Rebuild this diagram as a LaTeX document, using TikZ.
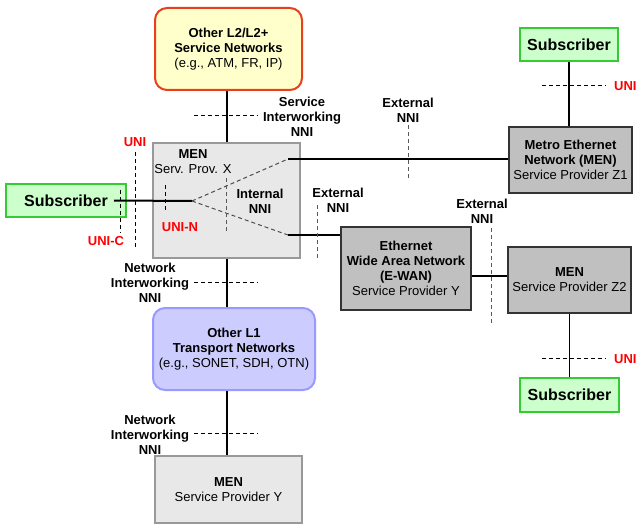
\documentclass[tikz,border=0pt]{standalone}
\usepackage{fontspec}
\setmainfont{Liberation Sans}
\definecolor{lyellow}{HTML}{FFFFCC}
\definecolor{lred}{HTML}{E8401C}
\definecolor{lblue}{HTML}{CCCCFF}
\definecolor{bblue}{HTML}{9999FF}
\definecolor{lgreen}{HTML}{CCFFCC}
\definecolor{bgreen}{HTML}{33CC33}
\definecolor{menfill}{HTML}{E8E8E8}
\definecolor{menborder}{HTML}{999999}
\definecolor{darkfill}{HTML}{C0C0C0}
\definecolor{darkborder}{HTML}{333333}
\definecolor{unired}{HTML}{FF0000}
\begin{document}
\begin{tikzpicture}[x=1pt,y=-1pt,
  font=\fontsize{13}{15}\selectfont,
  box/.style={draw, line width=2pt, inner sep=0pt, align=center},
  lightbox/.style={box, fill=menfill, draw=menborder},
  darkbox/.style={box, fill=darkfill, draw=darkborder},
  subbox/.style={box, fill=lgreen, draw=bgreen, font=\fontsize{16}{18}\selectfont\bfseries},
  conn/.style={line width=2pt, black},
  thinconn/.style={line width=1.5pt, black},
  dashline/.style={line width=1pt, dash pattern=on 4pt off 3pt},
  greydash/.style={line width=1pt, dash pattern=on 4pt off 3pt, black!65},
  lbl/.style={align=center, font=\fontsize{13}{15}\selectfont\bfseries, inner sep=0pt},
  redlbl/.style={text=unired, font=\fontsize{13}{15}\selectfont\bfseries, inner sep=0pt}
]
\useasboundingbox (0,0) rectangle (637,524);

% boxes
\node[box, fill=lyellow, draw=lred, rounded corners=12pt, minimum width=147pt, minimum height=82pt] (l2) at (228.5,49)
  {\textbf{Other L2/L2+}\\\textbf{Service Networks}\\(e.g., ATM, FR, IP)};
\node[lightbox, minimum width=147pt, minimum height=115pt] (menx) at (226.5,200.5) {};
\node[align=center, inner sep=0pt] (menxlab) at (193,162) {\textbf{MEN}\\Serv. Prov. X};
\node[subbox, minimum width=120pt, minimum height=33pt] (subl) at (66,200.5) {Subscriber};
\node[subbox, minimum width=98pt, minimum height=33pt] (subtr) at (569,44.5) {Subscriber};
\node[darkbox, minimum width=123pt, minimum height=66pt] (metro) at (570.5,160)
  {\textbf{Metro Ethernet}\\\textbf{Network (MEN)}\\Service Provider Z1};
\node[darkbox, minimum width=130pt, minimum height=83pt] (ewan) at (406,268.5)
  {\textbf{Ethernet}\\\textbf{Wide Area Network}\\\textbf{(E-WAN)}\\Service Provider Y};
\node[darkbox, minimum width=123pt, minimum height=66pt] (z2) at (569.5,280)
  {\textbf{MEN}\\Service Provider Z2};
\node[subbox, minimum width=99pt, minimum height=34pt] (subbr) at (569.5,395) {Subscriber};
\node[box, fill=lblue, draw=bblue, rounded corners=12pt, minimum width=162pt, minimum height=82pt] (l1) at (234,349)
  {\textbf{Other L1}\\\textbf{Transport Networks}\\(e.g., SONET, SDH, OTN)};
\node[lightbox, minimum width=147pt, minimum height=67pt] (meny) at (228.5,489.5)
  {\textbf{MEN}\\Service Provider Y};

% connectors
\draw[conn] (l2.south -| menx.north) -- (menx.north);
\draw[conn] (menx.south) -- (menx.south |- l1.north);
\draw[conn] (menx.south |- l1.south) -- (menx.south |- meny.north);
\draw[conn] (subtr.south) -- (subtr.south |- metro.north);
\draw[thinconn] (z2.south) -- (z2.south |- subbr.north);
\coordinate (split) at (192,201);
\coordinate (up) at (288,159);
\coordinate (down) at (288,235);
\draw[conn] ([xshift=-13pt]subl.east) -- (split);
\draw[dashline, black!70] (split) -- (up);
\draw[dashline, black!70] (split) -- (down);
\draw[conn] (up) -- (up -| metro.west);
\draw[thinconn] (down) -- (down -| ewan.west);
\draw[thinconn] ([yshift=-7.5pt]ewan.east) coordinate (e1) -- (e1 -| z2.west);

% dashed reference lines
\draw[dashline] (194,116) -- (258,116);
\draw[dashline] (120,190) -- (120,233);
\draw[dashline] (135,152) -- (135,248);
\draw[dashline] (165,185) -- (165,212);
\draw[greydash] (226,178) -- (226,233);
\draw[greydash] (408,125) -- (408,180);
\draw[greydash] (317,205) -- (317,260);
\draw[greydash] (491,228) -- (491,323);
\draw[dashline] (542,86) -- (606,86);
\draw[dashline] (542,358) -- (606,358);
\draw[dashline] (194,282) -- (258,282);
\draw[dashline] (194,433) -- (258,433);

% labels
\node[lbl] (sinni) at (302,117) {Service\\Interworking\\NNI};
\node[lbl] (ext1) at (408,110) {External\\NNI};
\node[lbl] (ext2) at (338,200) {External\\NNI};
\node[lbl] (ext3) at (482,211) {External\\NNI};
\node[lbl] (intnni) at (260,201.5) {Internal\\NNI};
\node[lbl] (nin1) at (150,283) {Network\\Interworking\\NNI};
\node[lbl] (nin2) at (150,435) {Network\\Interworking\\NNI};
\node[redlbl] (uni1) at (135,142) {UNI};
\node[redlbl] (unic) at (106,241) {UNI-C};
\node[redlbl] (unin) at (180,227) {UNI-N};
\node[redlbl, anchor=west] (uni2) at (614,86) {UNI};
\node[redlbl, anchor=west] (uni3) at (614,359) {UNI};
\end{tikzpicture}
\end{document}
